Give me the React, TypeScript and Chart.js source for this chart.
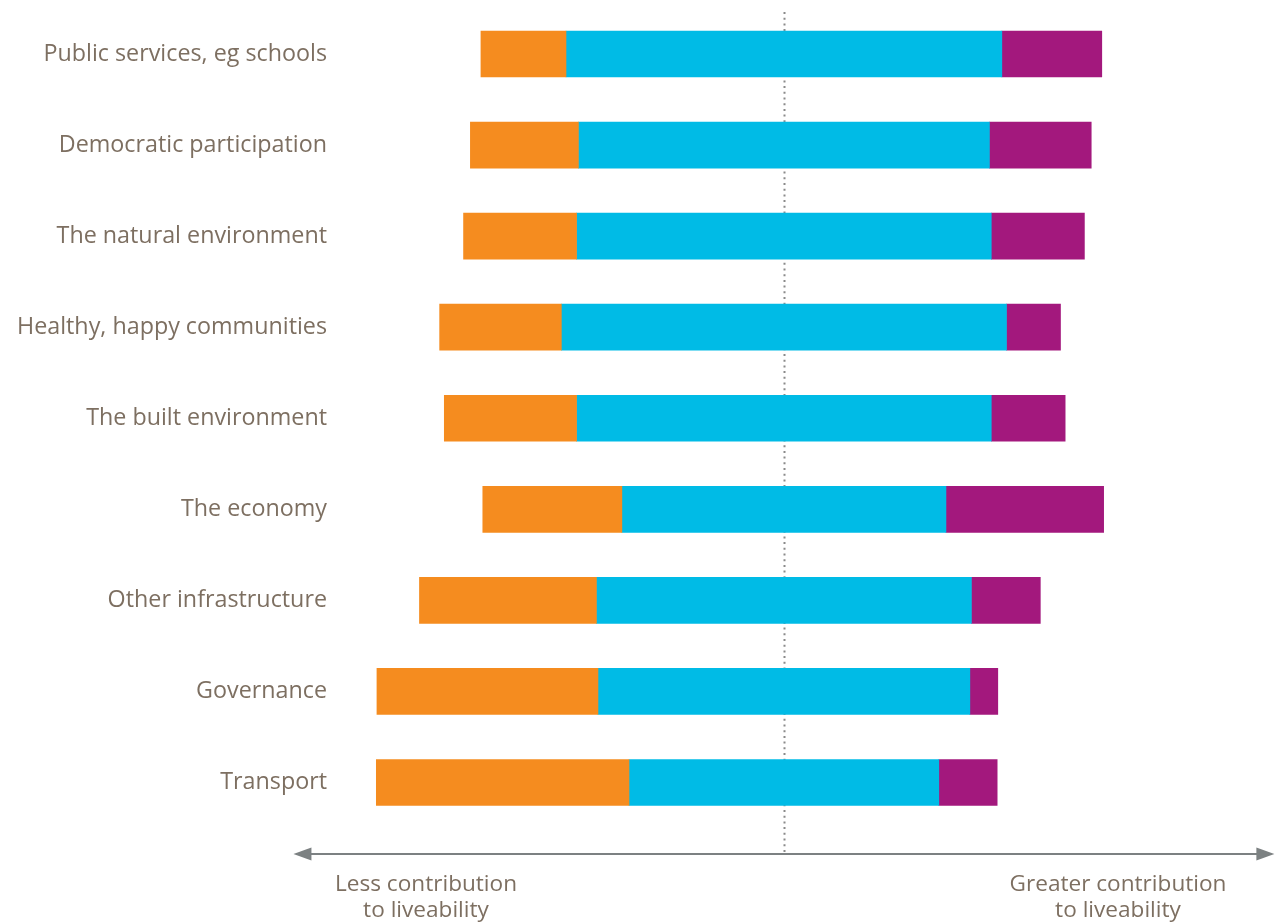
import React, { useEffect, useRef } from "react";
import { Chart, registerables } from "chart.js";

Chart.register(...registerables);

// Share of responses (%) per area: less / neutral / greater contribution
const categories = [
  "Public services, eg schools",
  "Democratic participation",
  "The natural environment",
  "Healthy, happy communities",
  "The built environment",
  "The economy",
  "Other infrastructure",
  "Governance",
  "Transport",
];
const lessShare = [13.7, 17.4, 18.2, 19.6, 21.3, 22.4, 28.5, 35.6, 40.7];
const neutralShare = [70.2, 66.2, 66.8, 71.7, 66.8, 52.2, 60.4, 59.9, 49.9];
const greaterShare = [16.1, 16.4, 15.0, 8.7, 11.9, 25.4, 11.1, 4.5, 9.4];

const axisCaptions = {
  left: ["Less contribution", "to liveability"],
  right: ["Greater contribution", "to liveability"],
};

const ORANGE = "#F58C1F";
const BLUE = "#00BBE6";
const PURPLE = "#A3187D";
const TEXT = "#7d6f61";
const ARROW = "#7c8182";
const FONT = "'Open Sans', 'Noto Sans', sans-serif";

export default function App() {
  const ref = useRef<HTMLCanvasElement | null>(null);

  useEffect(() => {
    if (!ref.current) return;

    const lessBars = categories.map((_, i) => [
      -(neutralShare[i] / 2 + lessShare[i]),
      -neutralShare[i] / 2,
    ]);
    const neutralBars = categories.map((_, i) => [
      -neutralShare[i] / 2,
      neutralShare[i] / 2,
    ]);
    const greaterBars = categories.map((_, i) => [
      neutralShare[i] / 2,
      neutralShare[i] / 2 + greaterShare[i],
    ]);

    const centerLine = {
      id: "centerLine",
      beforeDatasetsDraw(chart: any) {
        const { ctx, scales } = chart;
        const x = Math.round(scales.x.getPixelForValue(0)) + 0.5;
        ctx.save();
        ctx.strokeStyle = "#8a8a8a";
        ctx.lineWidth = 2;
        ctx.setLineDash([2, 3.7]);
        ctx.beginPath();
        ctx.moveTo(x, 12);
        ctx.lineTo(x, 855);
        ctx.stroke();
        ctx.restore();
      },
    };

    const bottomAxis = {
      id: "bottomAxis",
      afterDraw(chart: any) {
        const { ctx, scales } = chart;
        const x0 = scales.x.getPixelForValue(-79);
        const x1 = scales.x.getPixelForValue(79);
        const y = 854;
        const head = 18;
        const half = 6.5;
        ctx.save();
        ctx.strokeStyle = ARROW;
        ctx.fillStyle = ARROW;
        ctx.lineWidth = 2.2;
        ctx.beginPath();
        ctx.moveTo(x0 + head - 2, y);
        ctx.lineTo(x1 - head + 2, y);
        ctx.stroke();
        ctx.beginPath();
        ctx.moveTo(x0, y);
        ctx.lineTo(x0 + head, y - half);
        ctx.lineTo(x0 + head, y + half);
        ctx.closePath();
        ctx.fill();
        ctx.beginPath();
        ctx.moveTo(x1, y);
        ctx.lineTo(x1 - head, y - half);
        ctx.lineTo(x1 - head, y + half);
        ctx.closePath();
        ctx.fill();

        ctx.fillStyle = TEXT;
        ctx.font = `22.6px ${FONT}`;
        ctx.textAlign = "center";
        ctx.textBaseline = "middle";
        const lx = 426;
        const rx = 1118;
        axisCaptions.left.forEach((t, i) => ctx.fillText(t, lx, 885 + i * 25.5));
        axisCaptions.right.forEach((t, i) => ctx.fillText(t, rx, 885 + i * 25.5));
        ctx.restore();
      },
    };

    const chart = new Chart(ref.current, {
      type: "bar",
      data: {
        labels: categories,
        datasets: [
          { label: "Less", data: lessBars as any, backgroundColor: ORANGE },
          { label: "Neutral", data: neutralBars as any, backgroundColor: BLUE },
          { label: "Greater", data: greaterBars as any, backgroundColor: PURPLE },
        ],
      },
      options: {
        indexAxis: "y",
        animation: false,
        responsive: false,
        maintainAspectRatio: false,
        layout: { padding: { top: 8.5, bottom: 94, right: 6, left: 0 } },
        datasets: {
          bar: {
            grouped: false,
            barThickness: 46,
            borderWidth: 0,
            borderSkipped: false,
          },
        },
        plugins: {
          legend: { display: false },
          tooltip: { enabled: false },
          title: { display: false },
        },
        scales: {
          x: {
            display: false,
            min: -71.5,
            max: 79.1,
          },
          y: {
            grid: { display: false, drawTicks: false },
            border: { display: false },
            afterFit(scale: any) {
              scale.width = 340;
              scale.paddingTop = 0;
              scale.paddingBottom = 0;
            },
            ticks: {
              padding: 13,
              color: TEXT,
              font: { family: FONT, size: 23.3 },
            },
          },
        },
      },
      plugins: [centerLine, bottomAxis],
    });

    return () => chart.destroy();
  }, []);

  return (
    <div style={{ position: "absolute", left: 0, top: 0, width: 1281, height: 922 }}>
      <canvas ref={ref} width={1281} height={922} style={{ width: 1281, height: 922 }} />
    </div>
  );
}
